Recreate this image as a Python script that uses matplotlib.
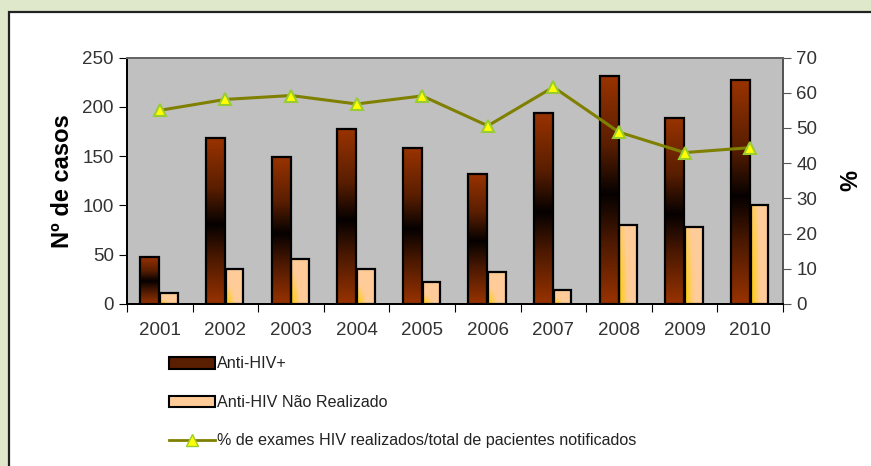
import numpy as np
import matplotlib
matplotlib.use('Agg')
import matplotlib.pyplot as plt
from matplotlib.colors import LinearSegmentedColormap
from matplotlib.patches import Rectangle, Patch
from matplotlib.lines import Line2D

plt.rcParams['font.family'] = ['Liberation Sans', 'DejaVu Sans']

anos = ['2001', '2002', '2003', '2004', '2005', '2006', '2007', '2008', '2009', '2010']
anti_hiv_pos = [48, 168, 149, 177, 158, 132, 194, 231, 189, 227]
anti_hiv_nao = [11, 35, 46, 35, 22, 32, 14, 80, 78, 100]
pct_exames = [55.0, 58.1, 59.2, 56.8, 59.1, 50.6, 61.6, 48.8, 43.0, 44.4]

label_pos = 'Anti-HIV+'
label_nao = 'Anti-HIV Não Realizado'
label_pct = '% de exames HIV realizados/total de pacientes notificados'

# colours
bg_green = '#dfe8cb'
plot_bg = '#c0c0c0'
brown = '#993300'
peach = '#ffcc99'
olive = '#808000'
tick_col = '#333333'

fig = plt.figure(figsize=(8.71, 4.66), dpi=100)
fig.patch.set_facecolor(bg_green)

# white panel with black frame (extends past right/bottom edges)
panel = Rectangle((9 / 871, -0.05), 1.0, 1 - 12 / 466 + 0.05, transform=fig.transFigure,
                  facecolor='white', edgecolor='#222222', linewidth=1.6, zorder=-10)
fig.patches.append(panel)

ax = fig.add_axes([127 / 871, 1 - 304 / 466, (783 - 127) / 871, (304 - 57.5) / 466])
ax.set_facecolor(plot_bg)
ax2 = ax.twinx()

x = np.arange(len(anos))
w = 0.29

cmap_pos = LinearSegmentedColormap.from_list(
    'pos', [(0.0, brown), (0.3, '#5a1e00'), (0.52, '#050100'), (0.72, '#4a1800'), (1.0, brown)])
cmap_nao = LinearSegmentedColormap.from_list('nao', ['#ffcc00', '#ffcc99', '#ffcc99'])

bars_pos = ax.bar(x - w / 2 - 0.005, anti_hiv_pos, width=w, facecolor='none',
                  edgecolor='black', linewidth=1.6, zorder=3)
bars_nao = ax.bar(x + w / 2 - 0.005, anti_hiv_nao, width=w * 0.93, facecolor='none',
                  edgecolor='black', linewidth=1.6, zorder=3)

# vertical gradient for the dark bars
grad_v = np.linspace(0, 1, 256).reshape(-1, 1)
for b in bars_pos:
    bx, by = b.get_x(), b.get_y()
    bw, bh = b.get_width(), b.get_height()
    im = ax.imshow(grad_v, cmap=cmap_pos, aspect='auto', origin='upper',
                   extent=[bx, bx + bw, by, by + bh], zorder=2)
    im.set_clip_path(b)

# diagonal gradient (yellow in lower-left corner) for the light bars
gx, gy = np.meshgrid(np.linspace(0, 1, 40), np.linspace(0, 1, 120))
for b in bars_nao:
    bx, by = b.get_x(), b.get_y()
    bw, bh = b.get_width(), b.get_height()
    dist = np.clip(np.sqrt(gx ** 2 + (gy * min(1.0, 30 / max(bh, 1))) ** 2), 0, 1)
    im = ax.imshow(dist, cmap=cmap_nao, aspect='auto', origin='lower',
                   extent=[bx, bx + bw, by, by + bh], zorder=2)
    im.set_clip_path(b)

ax.set_xlim(-0.5, len(anos) - 0.5)
ax.set_ylim(0, 250)
ax.set_yticks(range(0, 251, 50))
ax.set_xticks(np.arange(-0.5, len(anos), 1.0))
ax.set_xticklabels([])
ax.set_xticks(x, minor=True)
ax.set_xticklabels(anos, minor=True)
ax.tick_params(axis='x', which='major', direction='out', length=6, color='black')
ax.tick_params(axis='x', which='minor', length=0, pad=13, labelsize=13.5, labelcolor=tick_col)
ax.tick_params(axis='y', direction='out', length=6, labelsize=13.5, labelcolor=tick_col)
ax.set_ylabel('Nº de casos', fontsize=17, fontweight='bold', labelpad=6)

ax2.plot(x, pct_exames, color=olive, linewidth=2.2, marker='^', markersize=9,
         markerfacecolor='#ffff00', markeredgecolor='#99cc33', markeredgewidth=1.5, zorder=5)
ax2.set_ylim(0, 70)
ax2.set_yticks(range(0, 71, 10))
ax2.tick_params(axis='y', direction='out', length=6, labelsize=13.5, labelcolor=tick_col, color='#555555')
ax2.set_ylabel('%', fontsize=17, fontweight='bold', rotation=270, labelpad=28)

for a in (ax, ax2):
    a.spines['left'].set_color('black')
    a.spines['bottom'].set_color('black')
    a.spines['top'].set_color('#666666')
    a.spines['right'].set_color('#555555')
    for s in a.spines.values():
        s.set_linewidth(1.4)

handles = [
    Patch(facecolor='#5a1e00', edgecolor='black', linewidth=1.5, label=label_pos),
    Patch(facecolor=peach, edgecolor='black', linewidth=1.5, label=label_nao),
    Line2D([0], [0], color=olive, linewidth=2, marker='^', markersize=8,
           markerfacecolor='#ffff00', markeredgecolor='#99cc33', label=label_pct),
]
fig.legend(handles=handles, loc='upper left', bbox_to_anchor=(154 / 871, 1 - 342 / 466),
           frameon=False, fontsize=11.6, handlelength=2.9, handleheight=0.7,
           handletextpad=0.1, labelspacing=1.45, labelcolor='#222222')

fig.savefig('out.png', dpi=100, facecolor=fig.get_facecolor())
